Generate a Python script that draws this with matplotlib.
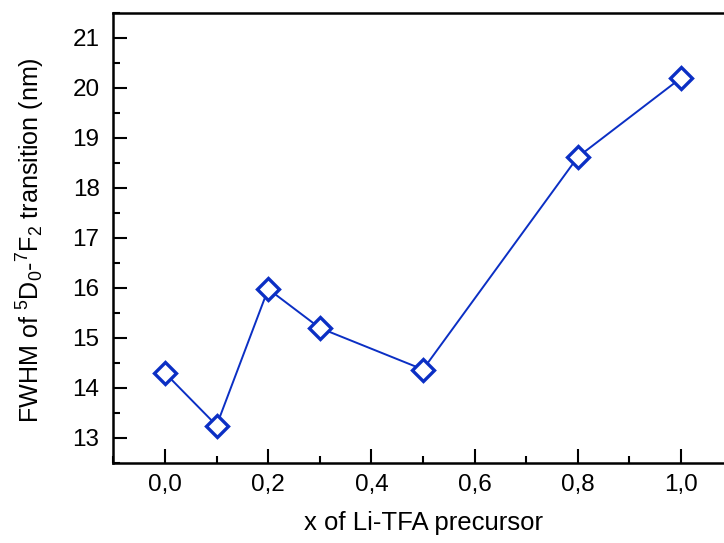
import matplotlib
matplotlib.use("Agg")
import matplotlib.pyplot as plt
from matplotlib.ticker import MultipleLocator, FuncFormatter

x_vals = [0.0, 0.1, 0.2, 0.3, 0.5, 0.8, 1.0]
fwhm = [14.30, 13.25, 15.98, 15.20, 14.37, 18.62, 20.20]

plt.rcParams['font.family'] = ['Liberation Sans', 'DejaVu Sans']
plt.rcParams['mathtext.fontset'] = 'custom'
plt.rcParams['mathtext.rm'] = 'Liberation Sans'
plt.rcParams['mathtext.it'] = 'Liberation Sans'

fig = plt.figure(figsize=(7.24, 5.43), dpi=100)
W, H = 724, 543
left, right, top, bottom = 113.4, 732.6, 13, 463
ax = fig.add_axes([left / W, 1 - bottom / H, (right - left) / W, (bottom - top) / H])

blue = '#0b2fc4'
ax.plot(x_vals, fwhm, color=blue, lw=1.4, marker='D', ms=11.5, mfc='white',
        mec=blue, mew=2.4)

ax.set_xlim(-0.1, 1.1)
ax.set_ylim(12.5, 21.5)
ax.xaxis.set_major_locator(MultipleLocator(0.2))
ax.xaxis.set_minor_locator(MultipleLocator(0.1))
ax.yaxis.set_major_locator(MultipleLocator(1))
ax.yaxis.set_minor_locator(MultipleLocator(0.5))
ax.xaxis.set_major_formatter(FuncFormatter(lambda v, p: f"{v:.1f}".replace('.', ',')))
ax.yaxis.set_major_formatter(FuncFormatter(lambda v, p: f"{v:.0f}"))

ax.tick_params(which='both', direction='in', width=1.5, labelsize=17.5, colors='black')
ax.tick_params(which='major', length=10)
ax.tick_params(which='minor', length=5)
ax.tick_params(axis='y', which='major', pad=10)
ax.tick_params(axis='x', which='major', pad=8)
ax.tick_params(top=False, right=False)
for s in ax.spines.values():
    s.set_linewidth(1.8)
ax.spines['right'].set_visible(False)

ax.set_xlabel('x of Li-TFA precursor', fontsize=18.5, labelpad=11)
ax.set_ylabel(r'FWHM of $^{5}$D$_{0}$-$^{7}$F$_{2}$ transition (nm)', fontsize=18.1)
ax.yaxis.set_label_coords((47 - left) / (right - left), 0.496)

fig.savefig('out.png', dpi=100)
